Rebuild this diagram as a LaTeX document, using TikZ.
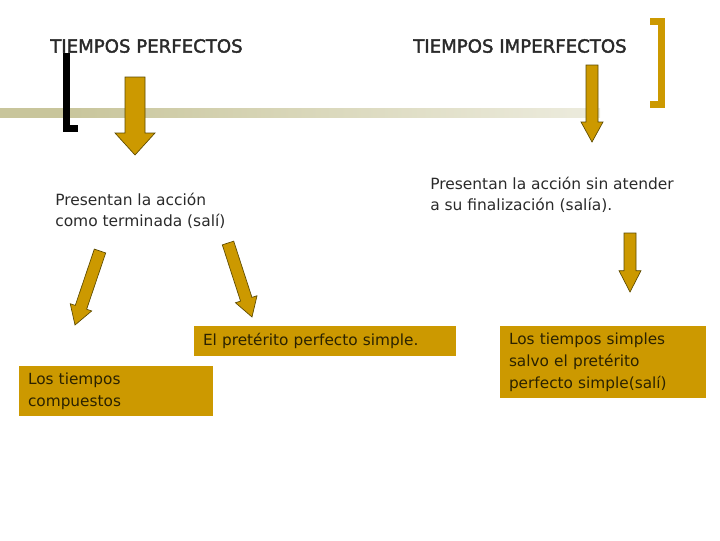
\documentclass[tikz,border=0pt]{standalone}
\usepackage{fontspec}
\setmainfont{DejaVu Sans}
\newfontfamily\titlefont[FakeBold=2]{DejaVu Sans}
\usetikzlibrary{calc}
\definecolor{gold}{HTML}{CC9900}
\definecolor{goldline}{HTML}{5C4A00}
\definecolor{bar}{HTML}{C8C59B}
\definecolor{ink}{HTML}{2A2A2A}
\definecolor{boxink}{HTML}{2B2200}
\pgfdeclarehorizontalshading{barshade}{100bp}{color(0bp)=(bar); color(30bp)=(bar); color(70bp)=(bar!40); color(100bp)=(white)}
\tikzset{
  titletext/.style={anchor=west, inner sep=0pt, text=ink, font=\titlefont\fontsize{13.6pt}{16pt}\selectfont},
  bodytext/.style={anchor=west, inner sep=0pt, align=left, text=ink, font=\fontsize{11.6pt}{15.75pt}\selectfont},
  goldbox/.style={fill=gold, draw=none, inner xsep=6.75pt, inner ysep=0pt, align=left, text=boxink, font=\fontsize{11.5pt}{16.5pt}\selectfont},
  blockarrow/.style={fill=gold, draw=goldline, line width=0.5pt, line join=miter},
}
% #1 tail, #2 tip, #3 shaft half width, #4 head half width, #5 head length
\newcommand\blockarrow[5]{%
  \coordinate (neck) at ($(#2)!#5!(#1)$);
  \draw[blockarrow] ($(#1)!#3!90:(#2)$) -- ($(neck)!#3!-90:(#1)$) -- ($(neck)!#4!-90:(#1)$)
    -- (#2) -- ($(neck)!#4!90:(#1)$) -- ($(neck)!#3!90:(#1)$) -- ($(#1)!#3!-90:(#2)$) -- cycle;
}
\begin{document}
\begin{tikzpicture}[x=0.75pt, y=-0.75pt]
\useasboundingbox (0,0) rectangle (720,540);
% decorative bar
\shade[shading=barshade] (0,108) rectangle (600,117);
% brackets
\draw[line width=5.25pt, line cap=butt, line join=miter] (66.5,53) -- (66.5,128.5) -- (78,128.5);
\draw[gold, line width=5.25pt, line cap=butt, line join=miter] (650,21.5) -- (661.5,21.5) -- (661.5,104.5) -- (650,104.5);
% titles
\node[titletext] (t1) at (50,46) {TIEMPOS PERFECTOS};
\node[titletext] (t2) at (413,46) {TIEMPOS IMPERFECTOS};
% descriptions
\node[bodytext] (p1) at (55,210.5) {Presentan la acción\\como terminada (salí)};
\node[bodytext] (p2) at (430,194.5) {Presentan la acción sin atender\\a su finalización (salía).};
% boxes
\node[goldbox, text width=183pt, minimum height=22.5pt] (b1) at (325,341) {El pretérito perfecto simple.};
\node[goldbox, text width=132pt, minimum height=37.5pt] (b2) at (116,391) {Los tiempos\\compuestos};
\node[goldbox, text width=141pt, minimum height=54pt] (b3) at (603,362) {Los tiempos simples\\salvo el pretérito\\perfecto simple(salí)};
% arrow end points
\coordinate (a1s) at (135,77);  \coordinate (a1e) at (135,155);
\coordinate (a2s) at (592,65);  \coordinate (a2e) at (592,142);
\coordinate (a3s) at (100,251); \coordinate (a3e) at (75,325);
\coordinate (a4s) at (228,243); \coordinate (a4e) at (252,317);
\coordinate (a5s) at (630,233); \coordinate (a5e) at (630,292);
\blockarrow{a1s}{a1e}{7.5pt}{15pt}{16.5pt}
\blockarrow{a2s}{a2e}{4.5pt}{8.25pt}{15pt}
\blockarrow{a3s}{a3e}{4.5pt}{8.5pt}{14pt}
\blockarrow{a4s}{a4e}{4.5pt}{8.5pt}{14pt}
\blockarrow{a5s}{a5e}{4.5pt}{8.25pt}{16pt}
\end{tikzpicture}
\end{document}
